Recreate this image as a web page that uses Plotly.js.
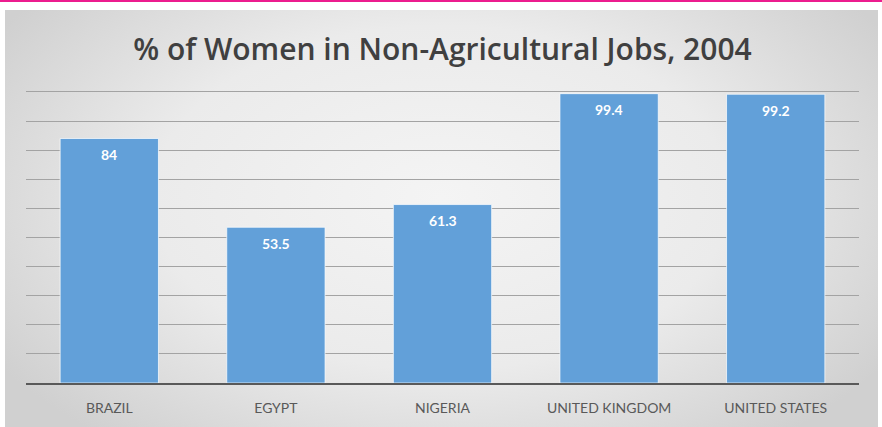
<!DOCTYPE html>
<html>
<head>
<meta charset="utf-8">
<script src="https://cdn.plot.ly/plotly-3.0.1.min.js"></script>
<style>
  html, body { margin: 0; padding: 0; background: #ffffff; }
  #wrap { position: relative; width: 882px; height: 427px; background: #ffffff; overflow: hidden; }
  #pink { position: absolute; left: 0; top: 0; width: 882px; height: 2px; background: #ec1c8e; }
  #panel { position: absolute; left: 5px; top: 10px; width: 873px; height: 417px;
           background: radial-gradient(ellipse 60% 75% at 50% 45%, #f4f4f4 0%, #ebebeb 55%, #d0d0d0 100%); }
  #chart { position: absolute; left: 0; top: 0; width: 882px; height: 427px; }
</style>
</head>
<body>
<div id="wrap">
  <div id="pink"></div>
  <div id="panel"></div>
  <div id="chart"></div>
</div>
<script>
const categories = ["BRAZIL", "EGYPT", "NIGERIA", "UNITED KINGDOM", "UNITED STATES"];
const values = [84, 53.5, 61.3, 99.4, 99.2];
const valueLabels = ["84", "53.5", "61.3", "99.4", "99.2"];
const chartTitle = "% of Women in Non-Agricultural Jobs, 2004";

const trace = {
  type: "bar",
  x: categories,
  y: values,
  marker: { color: "#62a0d9", line: { color: "rgba(255,255,255,0.7)", width: 1 } },
  hoverinfo: "x+y"
};

const annotations = categories.map((c, i) => ({
  x: c, y: values[i], xref: "x", yref: "y",
  text: "<b>" + valueLabels[i] + "</b>",
  showarrow: false, yanchor: "middle", yshift: -16,
  font: { family: "Lato, 'Open Sans', sans-serif", size: 14, color: "#ffffff" }
}));

const layout = {
  width: 882, height: 427,
  margin: { l: 26, r: 23, t: 89, b: 44 },
  paper_bgcolor: "rgba(0,0,0,0)",
  plot_bgcolor: "rgba(0,0,0,0)",
  title: {
    text: chartTitle,
    x: 0.5, xanchor: "center", xref: "paper",
    y: 1 - 49 / 427, yref: "container", yanchor: "middle",
    font: { family: "'Open Sans', Lato, sans-serif", size: 30, color: "#404040", weight: 600 }
  },
  bargap: 0.41,
  showlegend: false,
  xaxis: {
    type: "category",
    showline: true, linecolor: "#595959", linewidth: 2,
    ticks: "", showgrid: false, zeroline: false,
    ticklabelstandoff: 11,
    tickfont: { family: "Lato, 'Open Sans', sans-serif", size: 14, color: "#595959" }
  },
  yaxis: {
    range: [0, 101], dtick: 10, tick0: 0,
    showticklabels: false, ticks: "",
    showgrid: true, gridcolor: "#a3a3a3", gridwidth: 1,
    zeroline: false, showline: false, fixedrange: true
  },
  annotations: annotations
};

Plotly.newPlot("chart", [trace], layout, { displayModeBar: false, staticPlot: true });
</script>
</body>
</html>
